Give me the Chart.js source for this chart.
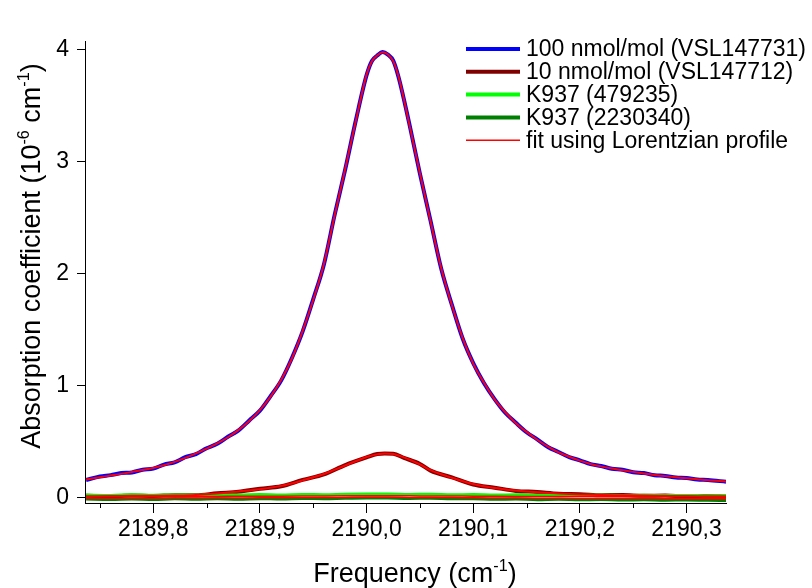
<!DOCTYPE html>
<html>
<head>
<meta charset="utf-8">
<script src="https://cdn.jsdelivr.net/npm/chart.js@4.4.1/dist/chart.umd.min.js"></script>
<style>
  html, body { margin: 0; padding: 0; background: #fff; }
  #wrap { width: 812px; height: 588px; }
</style>
</head>
<body>
<div id="wrap"><canvas id="chart" width="812" height="588"></canvas></div>
<script>
// pico principal (100 nmol/mol), frequência em cm-1
const freqMain = [2189.737, 2189.75, 2189.76, 2189.77, 2189.78, 2189.79, 2189.80, 2189.81, 2189.82, 2189.83,
  2189.84, 2189.85, 2189.86, 2189.87, 2189.88, 2189.89, 2189.90, 2189.91, 2189.92, 2189.93,
  2189.94, 2189.95, 2189.96, 2189.97, 2189.98, 2189.99, 2190.00, 2190.005, 2190.01, 2190.015,
  2190.02, 2190.025, 2190.03, 2190.04, 2190.05, 2190.06, 2190.07, 2190.08, 2190.09, 2190.10,
  2190.11, 2190.12, 2190.13, 2190.14, 2190.15, 2190.16, 2190.17, 2190.18, 2190.19, 2190.20,
  2190.21, 2190.22, 2190.23, 2190.24, 2190.25, 2190.26, 2190.27, 2190.28, 2190.29, 2190.30,
  2190.31, 2190.32, 2190.337];
const meas100 = [0.160, 0.192, 0.204, 0.222, 0.228, 0.252, 0.262, 0.298, 0.318, 0.364,
  0.392, 0.444, 0.484, 0.546, 0.604, 0.692, 0.780, 0.910, 1.050, 1.250,
  1.485, 1.775, 2.085, 2.525, 2.935, 3.375, 3.775, 3.902, 3.950, 3.982,
  3.958, 3.904, 3.756, 3.344, 2.896, 2.474, 2.046, 1.724, 1.426, 1.204,
  1.027, 0.883, 0.761, 0.671, 0.587, 0.523, 0.455, 0.410, 0.365, 0.336,
  0.302, 0.285, 0.261, 0.251, 0.230, 0.222, 0.203, 0.197, 0.183, 0.178,
  0.165, 0.160, 0.145];
const fit100 = [0.165, 0.185, 0.200, 0.215, 0.232, 0.249, 0.268, 0.292, 0.322, 0.358,
  0.398, 0.440, 0.487, 0.542, 0.608, 0.688, 0.785, 0.905, 1.055, 1.245,
  1.490, 1.770, 2.090, 2.520, 2.940, 3.370, 3.780, 3.900, 3.950, 3.980,
  3.960, 3.900, 3.760, 3.340, 2.900, 2.470, 2.050, 1.720, 1.430, 1.200,
  1.030, 0.880, 0.765, 0.668, 0.590, 0.520, 0.458, 0.407, 0.368, 0.333,
  0.304, 0.282, 0.264, 0.248, 0.233, 0.219, 0.206, 0.195, 0.185, 0.176,
  0.167, 0.158, 0.148];

// 10 nmol/mol
const freq10 = [2189.737, 2189.76, 2189.78, 2189.80, 2189.82, 2189.84, 2189.86, 2189.88, 2189.90, 2189.92,
  2189.94, 2189.96, 2189.98, 2190.00, 2190.01, 2190.017, 2190.025, 2190.035, 2190.05, 2190.06,
  2190.08, 2190.10, 2190.12, 2190.14, 2190.16, 2190.18, 2190.20, 2190.22, 2190.24, 2190.26,
  2190.28, 2190.30, 2190.32, 2190.337];
const meas10 = [0.020, 0.014, 0.022, 0.018, 0.025, 0.024, 0.042, 0.055, 0.082, 0.104,
  0.161, 0.210, 0.294, 0.362, 0.392, 0.396, 0.394, 0.358, 0.304, 0.244,
  0.184, 0.120, 0.092, 0.063, 0.053, 0.037, 0.034, 0.025, 0.026, 0.019,
  0.021, 0.015, 0.018, 0.013];
const fit10 = [0.016, 0.017, 0.019, 0.020, 0.022, 0.027, 0.039, 0.058, 0.078, 0.108,
  0.157, 0.214, 0.290, 0.366, 0.389, 0.398, 0.392, 0.362, 0.300, 0.248,
  0.180, 0.124, 0.089, 0.066, 0.050, 0.040, 0.032, 0.027, 0.024, 0.021,
  0.019, 0.017, 0.016, 0.015];

// K937 (zero air)
const freqZero = [2189.737, 2189.76, 2189.78, 2189.80, 2189.82, 2189.84, 2189.86, 2189.88, 2189.90, 2189.92,
  2189.94, 2189.96, 2189.98, 2190.00, 2190.02, 2190.04, 2190.06, 2190.08, 2190.10, 2190.12,
  2190.14, 2190.16, 2190.18, 2190.20, 2190.22, 2190.24, 2190.26, 2190.28, 2190.30, 2190.32,
  2190.337];
const k937a = [0.026, 0.023, 0.028, 0.024, 0.027, 0.025, 0.029, 0.026, 0.030, 0.027,
  0.031, 0.029, 0.033, 0.035, 0.036, 0.032, 0.033, 0.029, 0.030, 0.026,
  0.028, 0.024, 0.026, 0.023, 0.025, 0.022, 0.024, 0.021, 0.023, 0.020,
  0.021];
const fitK937a = [0.012, 0.012, 0.013, 0.013, 0.013, 0.014, 0.014, 0.015, 0.015, 0.016,
  0.017, 0.018, 0.019, 0.020, 0.020, 0.019, 0.018, 0.017, 0.016, 0.015,
  0.014, 0.013, 0.013, 0.012, 0.012, 0.011, 0.011, 0.010, 0.010, 0.010,
  0.009];
const k937b = [-0.010, -0.014, -0.009, -0.013, -0.008, -0.012, -0.007, -0.011, -0.006, -0.009,
  -0.004, -0.006, -0.002, 0.000, -0.001, -0.004, -0.003, -0.008, -0.007, -0.012,
  -0.010, -0.015, -0.012, -0.017, -0.014, -0.019, -0.016, -0.020, -0.018, -0.021,
  -0.022];
const fitK937b = [-0.002, -0.002, -0.002, -0.002, -0.001, -0.001, 0.000, 0.000, 0.001, 0.002,
  0.003, 0.004, 0.005, 0.006, 0.006, 0.005, 0.004, 0.003, 0.001, 0.000,
  -0.001, -0.002, -0.003, -0.004, -0.004, -0.005, -0.005, -0.006, -0.006, -0.007,
  -0.007];

const legendLabels = ['100 nmol/mol (VSL147731)', '10 nmol/mol (VSL147712)', 'K937 (479235)', 'K937 (2230340)', 'fit using Lorentzian profile'];
const legendColors = ['#0000ff', '#800000', '#00ff00', '#008000', '#ff0000'];

const FONT = "'Liberation Sans', Arial, sans-serif";

function pts(xs, ys) {
  return xs.map((x, i) => ({ x: x, y: ys[i] }));
}

function serie(xs, ys, color, width, order) {
  return {
    data: pts(xs, ys),
    borderColor: color,
    borderWidth: width,
    pointRadius: 0,
    fill: false,
    cubicInterpolationMode: 'monotone',
    order: order,
  };
}

// texto com expoentes (cm-1 etc)
function richText(ctx, parts, x, y, size) {
  let total = 0;
  parts.forEach(p => {
    ctx.font = (p.sup ? size * 0.6 : size) + 'px ' + FONT;
    p.w = ctx.measureText(p.t).width;
    total += p.w;
  });
  let cx = x - total / 2;
  parts.forEach(p => {
    ctx.font = (p.sup ? size * 0.6 : size) + 'px ' + FONT;
    ctx.fillText(p.t, cx, p.sup ? y - size * 0.42 : y);
    cx += p.w;
  });
}

const extras = {
  id: 'extras',
  afterDraw(chart) {
    const ctx = chart.ctx;
    const xs = chart.scales.x;
    const area = chart.chartArea;
    ctx.save();
    ctx.fillStyle = '#000';
    ctx.strokeStyle = '#000';
    ctx.lineWidth = 1;

    // ticks menores no eixo x
    for (let v = 2189.75; v < xs.max; v += 0.1) {
      const px = Math.round(xs.getPixelForValue(v)) + 0.5;
      ctx.beginPath();
      ctx.moveTo(px, area.bottom);
      ctx.lineTo(px, area.bottom + 5);
      ctx.stroke();
    }

    // títulos dos eixos
    ctx.textBaseline = 'alphabetic';
    ctx.textAlign = 'left';
    richText(ctx, [{ t: 'Frequency (cm' }, { t: '-1', sup: true }, { t: ')' }], 415, 582, 27);
    ctx.save();
    ctx.translate(40, 256);
    ctx.rotate(-Math.PI / 2);
    richText(ctx, [{ t: 'Absorption coefficient (10' }, { t: '-6', sup: true }, { t: ' cm' }, { t: '-1', sup: true }, { t: ')' }], 0, 0, 27);
    ctx.restore();

    // legenda
    ctx.font = '23px ' + FONT;
    ctx.textBaseline = 'middle';
    legendLabels.forEach((lab, i) => {
      const y = 49 + i * 22.8;
      ctx.strokeStyle = legendColors[i];
      ctx.lineWidth = i === 4 ? 1.5 : 4;
      ctx.beginPath();
      ctx.moveTo(466, y);
      ctx.lineTo(520, y);
      ctx.stroke();
      ctx.fillStyle = '#000';
      ctx.fillText(lab, 526, y + 1);
    });
    ctx.restore();
  }
};

new Chart(document.getElementById('chart').getContext('2d'), {
  type: 'line',
  data: {
    datasets: [
      serie(freqMain, fit100, '#ff0000', 2, 0),
      serie(freq10, fit10, '#ff0000', 2, 0),
      serie(freqZero, fitK937a, '#ff0000', 1.5, 0),
      serie(freqZero, fitK937b, '#ff0000', 1.5, 0),
      serie(freqZero, k937b, '#008000', 3, 1),
      serie(freqZero, k937a, '#00ff00', 3, 2),
      serie(freq10, meas10, '#800000', 4, 3),
      serie(freqMain, meas100, '#0000ff', 4, 4),
    ],
  },
  options: {
    responsive: false,
    animation: false,
    devicePixelRatio: 1,
    layout: { padding: { left: 0, right: 86, top: 41, bottom: 0 } },
    plugins: {
      legend: { display: false },
      tooltip: { enabled: false },
    },
    scales: {
      x: {
        type: 'linear',
        min: 2189.736,
        max: 2190.337,
        afterFit: s => { s.height = 85; },
        border: { display: true, color: '#000', width: 1 },
        grid: { drawOnChartArea: false, color: '#000', tickLength: 10 },
        ticks: {
          stepSize: 0.1,
          includeBounds: false,
          maxRotation: 0,
          autoSkip: false,
          padding: 3,
          color: '#000',
          font: { family: FONT, size: 23 },
          callback: v => v.toFixed(1).replace('.', ','),
        },
      },
      y: {
        min: -0.045,
        max: 4.08,
        afterFit: s => { s.width = 85; },
        border: { display: true, color: '#000', width: 1 },
        grid: { drawOnChartArea: false, color: '#000', tickLength: 8 },
        ticks: {
          stepSize: 1,
          includeBounds: false,
          padding: 8,
          color: '#000',
          font: { family: FONT, size: 23 },
        },
      },
    },
  },
  plugins: [extras],
});
</script>
</body>
</html>
